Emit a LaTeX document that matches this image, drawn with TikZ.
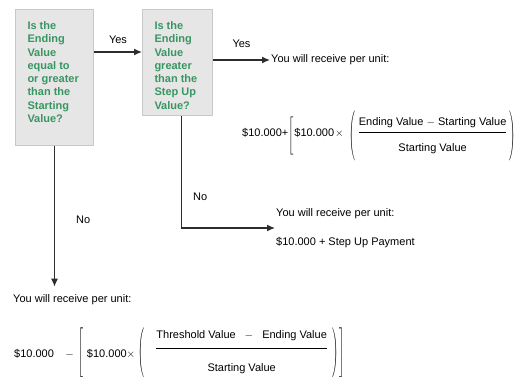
\documentclass[tikz,border=0pt]{standalone}
\usepackage{fontspec}
\setmainfont{Liberation Sans}
\usepackage{amsmath}
\usepackage{graphicx}
\usetikzlibrary{arrows.meta}

\definecolor{qgreen}{RGB}{56,150,98}
\definecolor{qfill}{RGB}{230,230,230}
\definecolor{qline}{RGB}{200,200,200}
\definecolor{flow}{RGB}{45,45,45}

% delimiter of a given width and height, centred a little above the axis
\newcommand{\dlm}[4][0pt]{\raisebox{#1}{$\vcenter{\hbox{\resizebox*{#2}{#3}{$\Bigg#4$}}}$}}
% fraction: raise, numerator depth, denominator height, numerator, denominator
\newcommand{\ratio}[5]{\raisebox{#1}{$\dfrac{\text{#4}\rule[-#2]{0pt}{#2}}{\rule{0pt}{#3}\text{#5}}$}}
\newcommand{\qtext}[3]{\parbox[c][#1][t]{#2}{\raggedright\rule{0pt}{16pt}#3}}

\begin{document}
\begin{tikzpicture}[
        x = 1pt, y = -1pt,
        q/.style = {draw=qline, fill=qfill, line width=1pt, text=qgreen,
                    font=\bfseries\fontsize{11}{13.3}\selectfont,
                    anchor=north west, inner xsep=12pt, inner ysep=4pt},
        t/.style = {font=\fontsize{11}{13.3}\selectfont, inner sep=1pt},
        f/.style = {t, anchor=base west, inner sep=0pt},
        e/.style = {draw=flow, line width=1.3pt, -{Latex[length=8pt,width=7pt]}}
    ]
    \clip (0,0) rectangle (514,377);
    %--- Draw Questions ---%
        \node (q1) [q] at (15,9)
            {\qtext{128pt}{54pt}{Is the\\Ending\\Value\\equal to\\or greater\\than the\\Starting\\Value?}};
        \node (q2) [q] at (142,9)
            {\qtext{98pt}{46pt}{Is the\\Ending\\Value\\greater\\than the\\Step Up\\Value?}};
    %--- Draw Outcomes ---%
        \node (o1) [t, anchor=west] at (270,60) {You will receive per unit:};
        \node (f1) [f] at (242,137)
            {$\text{\$10.000+}\dlm[-2pt]{5pt}{38pt}{[}\hspace{1pt}\text{\$10.000}\hspace{1pt}{\times}\hspace{6pt}%
              \dlm[-2pt]{6pt}{50pt}{(}\hspace{2pt}%
              \ratio{2pt}{5pt}{18pt}{Ending Value $-$ Starting Value}{Starting Value}%
              \hspace{2pt}\dlm[-2pt]{6pt}{50pt}{)}\hspace{1pt}\dlm[-2pt]{5pt}{38pt}{]}$};
        \node (o2) [t, anchor=west, align=left] at (275,228)
            {You will receive per unit:\\[15.7pt]\$10.000 + Step Up Payment};
        \node (o3) [t, anchor=west] at (12,300) {You will receive per unit:};
        \node (f2) [f] at (14,357)
            {$\text{\$10.000}\hspace{11.5pt}{-}\hspace{5pt}\dlm[1pt]{5pt}{50pt}{[}\hspace{3pt}\text{\$10.000}{\times}\hspace{3pt}%
              \dlm[1pt]{6pt}{50pt}{(}\hspace{11pt}%
              \ratio{6pt}{8pt}{22pt}{Threshold Value\hspace{9pt}$-$\hspace{9pt}Ending Value}{Starting Value}%
              \hspace{4pt}\dlm[1pt]{6pt}{50pt}{)}\hspace{1pt}\dlm[1pt]{5pt}{50pt}{]}$};
    %--- Draw Flow ---%
        \coordinate (y1) at (0,52);
        \draw[e] (q1.east |- y1) to node [t, above=7pt]{Yes} (q2.west |- y1);
        \draw[e] (q2.east |- o1.west) to node [t, above=11pt]{Yes} (o1.west);
        \draw[e] ([xshift=4pt]q2.south) |- node [t, pos=0.36, anchor=west, xshift=10pt]{No} (o2.west);
        \draw[e, shorten >=7pt] (q1.south) to node [t, right=20pt]{No} (q1.south |- o3.north);
\end{tikzpicture}
\end{document}
